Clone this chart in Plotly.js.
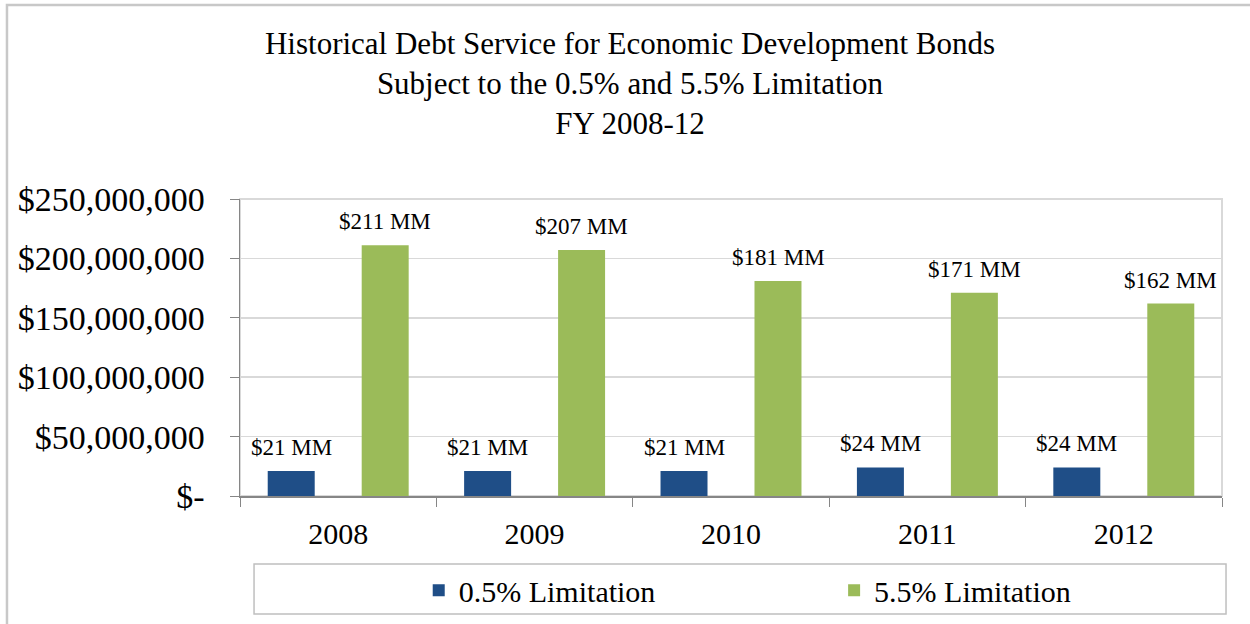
<!DOCTYPE html>
<html>
<head>
<meta charset="utf-8">
<script src="https://cdn.plot.ly/plotly-3.0.1.min.js"></script>
<style>html,body{margin:0;padding:0;background:#fff;}#chart{width:1250px;height:624px;}</style>
</head>
<body>
<div id="chart"></div>
<script>
// ---- data ----
const years = ['2008', '2009', '2010', '2011', '2012'];
const limit05MM = [21, 21, 21, 24, 24];        // $ millions, 0.5% Limitation
const limit55MM = [211, 207, 181, 171, 162];   // $ millions, 5.5% Limitation
const seriesNames = ['0.5% Limitation', '5.5% Limitation'];
const yTickVals = [0, 50000000, 100000000, 150000000, 200000000, 250000000];
const yTickText = ['$-', '$50,000,000', '$100,000,000', '$150,000,000', '$200,000,000', '$250,000,000'];
const titleLines = ['Historical Debt Service for Economic Development Bonds', 'Subject to the 0.5% and 5.5% Limitation', 'FY 2008-12'];

const SERIF = '"Liberation Serif", "Times New Roman", serif';
const BLUE = '#1F4E87';
const GREEN = '#9BBB59';

const toDollars = arr => arr.map(v => v * 1000000);

const traces = [
  {type: 'bar', name: seriesNames[0], x: years, y: toDollars(limit05MM),
   marker: {color: BLUE}, hoverinfo: 'skip', legend: 'legend'},
  {type: 'bar', name: seriesNames[1], x: years, y: toDollars(limit55MM),
   marker: {color: GREEN}, hoverinfo: 'skip', legend: 'legend2'}
];

const annotations = [];
[limit05MM, limit55MM].forEach((vals, s) => {
  vals.forEach((v, i) => {
    annotations.push({
      x: i, y: v * 1000000, xref: 'x', yref: 'y',
      text: '$' + v + ' MM', showarrow: false,
      xanchor: 'center', yanchor: 'bottom',
      xshift: s === 0 ? -47 : 47, yshift: 9,
      font: {family: SERIF, size: 23, color: '#000'}
    });
  });
});

const legendFont = {family: SERIF, size: 30, color: '#000'};

const layout = {
  width: 1250, height: 624,
  margin: {l: 240, r: 28, t: 199, b: 128, autoexpand: false},
  paper_bgcolor: '#ffffff', plot_bgcolor: 'rgba(0,0,0,0)',
  font: {family: SERIF, color: '#000'},
  title: {
    text: titleLines.join('<br>'),
    x: 0.504, xref: 'container', xanchor: 'center',
    y: 0.914, yref: 'container', yanchor: 'top',
    font: {family: SERIF, size: 31, color: '#000'}
  },
  barmode: 'group', bargap: 0.043, bargroupgap: 0.5,
  showlegend: true,
  legend: {
    orientation: 'h', x: 0.182, xanchor: 'left', y: -0.317, yanchor: 'middle',
    font: legendFont, bgcolor: 'rgba(0,0,0,0)', borderwidth: 0
  },
  legend2: {
    orientation: 'h', x: 0.605, xanchor: 'left', y: -0.317, yanchor: 'middle',
    font: legendFont, bgcolor: 'rgba(0,0,0,0)', borderwidth: 0
  },
  xaxis: {
    type: 'category', range: [-0.5, 4.5], tickson: 'boundaries', ticks: 'outside', ticklen: 9,
    tickcolor: '#868686', showline: true, linecolor: '#868686', linewidth: 1.5,
    showgrid: false, tickangle: 0, automargin: false, ticklabelstandoff: 10,
    tickfont: {family: SERIF, size: 30, color: '#000'},
    fixedrange: true
  },
  yaxis: {
    range: [0, 250000000], tickvals: yTickVals, ticktext: yTickText,
    ticks: 'outside', ticklen: 9, tickcolor: '#868686',
    showline: true, linecolor: '#868686', linewidth: 1.5,
    showgrid: true, gridcolor: '#d9d9d9', gridwidth: 1.5, zeroline: false,
    tickfont: {family: SERIF, size: 34, color: '#000'},
    ticklabelstandoff: 18, automargin: false, fixedrange: true
  },
  annotations: annotations,
  shapes: [
    {type: 'rect', xref: 'paper', yref: 'paper', x0: 0, x1: 1, y0: 0, y1: 1,
     line: {color: '#d9d9d9', width: 2}, layer: 'below'},
    {type: 'rect', xref: 'paper', yref: 'paper', x0: 0.0143, x1: 1.0041, y0: -0.3973, y1: -0.229,
     line: {color: '#bfbfbf', width: 1.5}, layer: 'below'},
    {type: 'rect', xref: 'paper', yref: 'paper', x0: -0.2373, x1: 1.05, y0: -0.52, y1: 1.653,
     line: {color: '#c8c8c8', width: 2.5}, layer: 'below'}
  ]
};

Plotly.newPlot('chart', traces, layout, {displayModeBar: false, staticPlot: true});
</script>
</body>
</html>
